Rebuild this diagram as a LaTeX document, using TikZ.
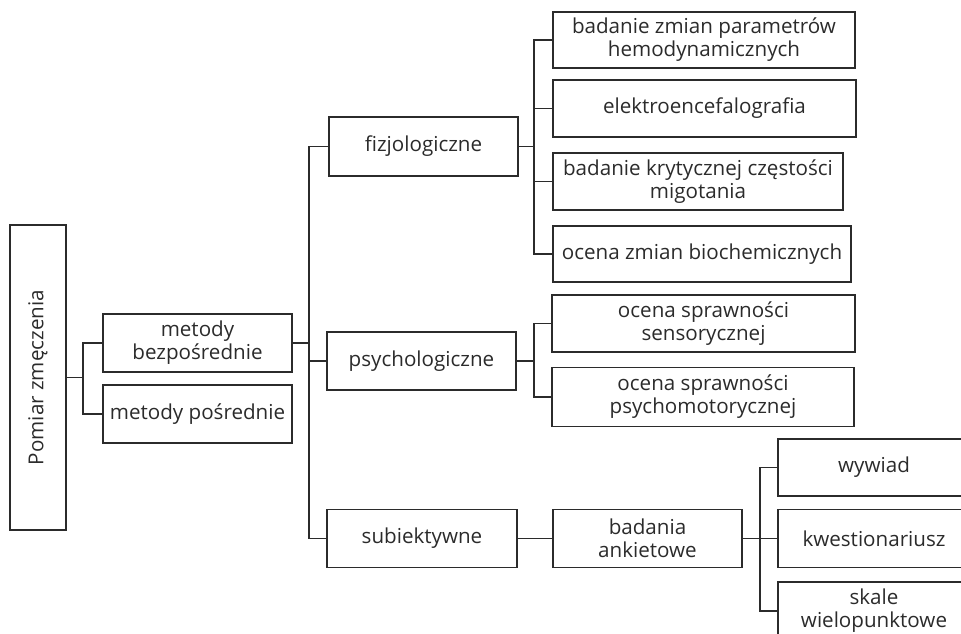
\documentclass[tikz,border=0pt]{standalone}
\usepackage{fontspec}
\setmainfont{Open Sans}
\usepackage{graphicx}
\definecolor{ink}{HTML}{2B2B2B}
\begin{document}
\begin{tikzpicture}[x=1pt,y=-1pt,
  box/.style={draw=ink,line width=1.6pt,rectangle,inner sep=0pt,align=center,
    text=ink,font=\fontsize{20.6}{23}\selectfont},
  link/.style={draw=ink,line width=1.1pt}]
\clip (0,0) rectangle (961,634);
% nodes
\node[box,minimum width=56,minimum height=305] (pom) at (38,377.5) {\rotatebox{90}{Pomiar zmęczenia}};
\node[box,minimum width=189,minimum height=58] (mb) at (197.5,343) {metody\\bezpośrednie};
\node[box,minimum width=189,minimum height=58] (mp) at (197.5,414) {metody pośrednie};
\node[box,minimum width=189,minimum height=59] (fiz) at (423.5,146.5) {fizjologiczne};
\node[box,minimum width=189,minimum height=58] (psy) at (421.5,361) {psychologiczne};
\node[box,minimum width=190,minimum height=58] (sub) at (422,538.5) {subiektywne};
\node[box,minimum width=302,minimum height=56] (f1) at (704,40) {badanie zmian parametrów\\hemodynamicznych};
\node[box,minimum width=303,minimum height=57] (f2) at (704.5,108.5) {elektroencefalografia};
\node[box,minimum width=290,minimum height=57] (f3) at (698,181.5) {badanie krytycznej częstości\\migotania};
\node[box,minimum width=298,minimum height=56] (f4) at (702,254) {ocena zmian biochemicznych};
\node[box,minimum width=303,minimum height=57] (p1) at (703.5,323.5) {ocena sprawności\\sensorycznej};
\node[box,minimum width=302,minimum height=59] (p2) at (703,397) {ocena sprawności\\psychomotorycznej};
\node[box,minimum width=189,minimum height=58] (ba) at (647.5,538.5) {badania\\ankietowe};
\node[box,minimum width=192,minimum height=57] (w1) at (874,467.5) {wywiad};
\node[box,minimum width=192,minimum height=58] (w2) at (874,538.5) {kwestionariusz};
\node[box,minimum width=192,minimum height=58] (w3) at (874,611) {skale\\wielopunktowe};
% junctions
\coordinate (j1) at (83,377.5);
\coordinate (j2) at (309,343);
\coordinate (j3) at (534,146.5);
\coordinate (j4) at (534,361);
\coordinate (j5) at (760,538.5);
% connectors
\draw[link] (pom.east) -- (j1);
\draw[link] (mb.west) -| (j1) |- (mp.west);
\draw[link] (mb.east) -- (j2);
\draw[link] (fiz.west) -| (j2) |- (sub.west);
\draw[link] (psy.west) -- (psy.west -| j2);
\draw[link] (fiz.east) -- (j3);
\draw[link] (f1.west) -| (j3) |- (f4.west);
\draw[link] (f2.west) -- (f2.west -| j3);
\draw[link] (f3.west) -- (f3.west -| j3);
\draw[link] (psy.east) -- (j4);
\draw[link] (p1.west) -| (j4) |- (p2.west);
\draw[link] (sub.east) -- (ba.west);
\draw[link] (ba.east) -- (j5);
\draw[link] (w1.west) -| (j5) |- (w3.west);
\draw[link] (w2.west) -- (w2.west -| j5);
\end{tikzpicture}
\end{document}
